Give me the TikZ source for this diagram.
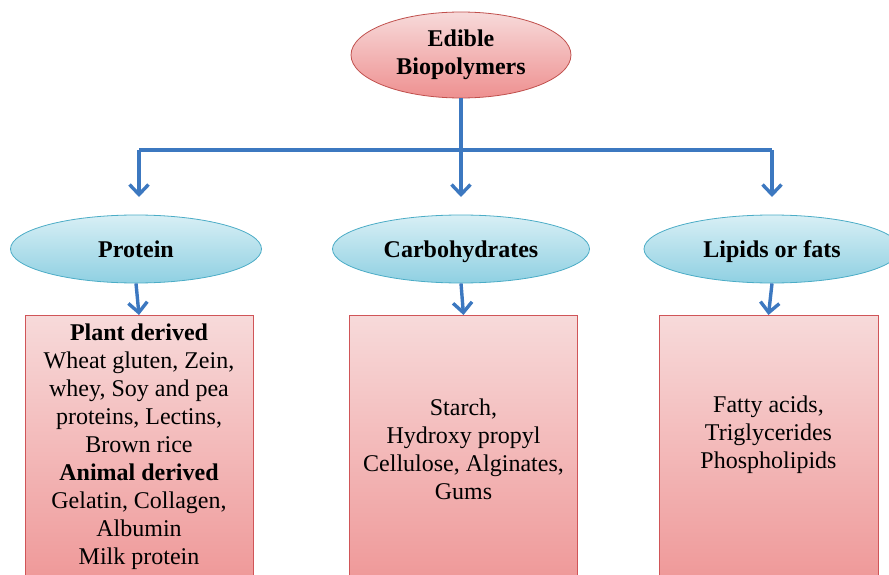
\documentclass[tikz,border=0pt]{standalone}
\usepackage{fontspec}
\setmainfont{Liberation Serif}
\usetikzlibrary{arrows.meta,shapes.geometric}
\definecolor{arrowblue}{HTML}{3C78C0}
\definecolor{pinkedge}{HTML}{C0504D}
\definecolor{pinktop}{HTML}{F7DADA}
\definecolor{pinkbot}{HTML}{EE9090}
\definecolor{cyanedge}{HTML}{4BACC6}
\definecolor{cyantop}{HTML}{D8EFF5}
\definecolor{cyanbot}{HTML}{8FD0E2}
\definecolor{boxedge}{HTML}{D05558}
\tikzset{
  x=1pt, y=-1pt,
  link/.style={draw=arrowblue, line width=3.4pt},
  arr/.style={link, -{Straight Barb[length=10pt,width=19pt]}},
  rootell/.style={ellipse, draw=pinkedge, line width=0.8pt,
    top color=pinktop, bottom color=pinkbot,
    minimum width=220pt, minimum height=86pt, inner sep=0pt},
  catell/.style={ellipse, draw=cyanedge, line width=0.8pt,
    top color=cyantop, bottom color=cyanbot,
    minimum height=68pt, inner sep=0pt, text height=18pt, text depth=2pt},
  itembox/.style={rectangle, draw=boxedge, line width=0.8pt,
    top color=pinktop, bottom color=pinkbot,
    minimum height=300pt, anchor=north, inner sep=0pt},
  headtxt/.style={font=\fontsize{24}{28}\selectfont\bfseries, align=center},
  bodytxt/.style={font=\fontsize{24}{28}\selectfont, align=center, inner sep=0pt},
}
\begin{document}
\begin{tikzpicture}
\useasboundingbox (0,0) rectangle (889,575);
\begin{scope}
\clip (0,0) rectangle (889,575);

% root and categories
\node[rootell, headtxt] (root) at (461,55) {Edible\\Biopolymers};
\node[catell, headtxt, minimum width=251pt] (prot) at (136,249) {Protein};
\node[catell, headtxt, minimum width=257pt] (carb) at (461,249) {Carbohydrates};
\node[catell, headtxt, minimum width=256pt] (lip) at (772,249) {Lipids or fats};

% item boxes
\node[itembox, minimum width=228pt] (pbox) at (139,315) {};
\node[itembox, minimum width=228pt] (cbox) at (463.5,315) {};
\node[itembox, minimum width=219pt] (lbox) at (768.5,315) {};

% box contents
\node[bodytxt] (ptxt) at (139,447) {%
  \textbf{Plant derived}\\Wheat gluten, Zein,\\whey, Soy and pea\\proteins, Lectins,\\Brown rice\\
  \textbf{Animal derived}\\Gelatin, Collagen,\\Albumin\\Milk protein};
\node[bodytxt] (ctxt) at (463.5,449) {Starch,\\Hydroxy propyl\\Cellulose, Alginates,\\Gums};
\node[bodytxt] (ltxt) at (768.5,435) {Fatty acids,\\Triglycerides\\Phospholipids};

% connectors
\coordinate (hub) at (461,150);
\coordinate (hl) at (139,150);
\coordinate (hr) at (772,150);
\draw[link] (root.south) -- (hub);
\draw[link] (hl) -- (hr);
\draw[arr] (hl) -- (139,197);
\draw[arr] (hub) -- (461,197);
\draw[arr] (hr) -- (772,197);
\draw[arr] (prot.south) -- (pbox.north);
\draw[arr] (carb.south) -- (cbox.north);
\draw[arr] (lip.south) -- (lbox.north);
\end{scope}
\end{tikzpicture}
\end{document}
